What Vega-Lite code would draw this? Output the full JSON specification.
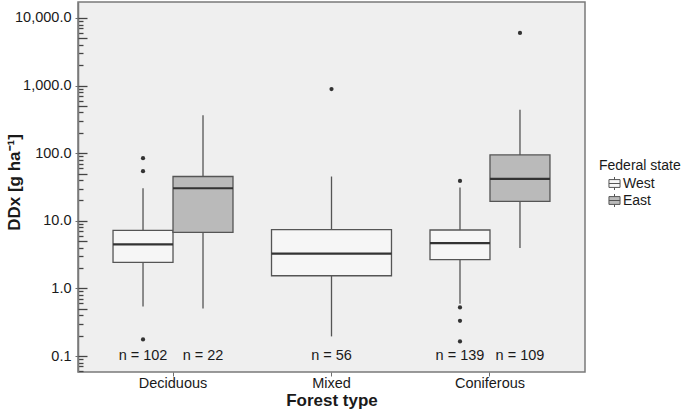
{
  "$schema": "https://vega.github.io/schema/vega-lite/v6.json",
  "width": 507,
  "height": 370,
  "autosize": "none",
  "padding": {"left": 78, "top": 2, "right": 100, "bottom": 41},
  "background": "white",
  "config": {
    "font": "Liberation Sans",
    "view": {"fill": "#efefef", "stroke": "#7a7a7a", "strokeWidth": 1.5},
    "axis": {"tickColor": "#6e6e6e", "labelColor": "#1a1a1a", "titleColor": "#1a1a1a", "labelFont": "Liberation Sans", "titleFont": "Liberation Sans"},
    "legend": {"labelFont": "Liberation Sans", "titleFont": "Liberation Sans"}
  },
  "datasets": {
    "boxes": [
      {"forest": "Deciduous", "state": "West", "lower": 0.54, "q1": 2.43, "median": 4.49, "q3": 7.23, "upper": 30.3, "label": "n = 102"},
      {"forest": "Deciduous", "state": "East", "lower": 0.505, "q1": 6.76, "median": 30.3, "q3": 45.2, "upper": 365, "label": "n = 22"},
      {"forest": "Mixed", "state": "West", "lower": 0.195, "q1": 1.54, "median": 3.27, "q3": 7.41, "upper": 45.2, "label": "n = 56"},
      {"forest": "Coniferous", "state": "West", "lower": 0.593, "q1": 2.66, "median": 4.69, "q3": 7.31, "upper": 31.0, "label": "n = 139"},
      {"forest": "Coniferous", "state": "East", "lower": 3.95, "q1": 19.4, "median": 41.6, "q3": 94.4, "upper": 438, "label": "n = 109"}
    ],
    "outliers": [
      {"forest": "Deciduous", "state": "West", "value": 84.3},
      {"forest": "Deciduous", "state": "West", "value": 54.1},
      {"forest": "Deciduous", "state": "West", "value": 0.176},
      {"forest": "Mixed", "state": "West", "value": 887},
      {"forest": "Coniferous", "state": "West", "value": 38.9},
      {"forest": "Coniferous", "state": "West", "value": 0.523},
      {"forest": "Coniferous", "state": "West", "value": 0.332},
      {"forest": "Coniferous", "state": "West", "value": 0.164},
      {"forest": "Coniferous", "state": "East", "value": 6000}
    ]
  },
  "layer": [
    {
      "encoding": {
        "x": {"field": "forest", "type": "nominal", "scale": {"domain": ["Deciduous", "Mixed", "Coniferous"], "paddingInner": 0.243, "paddingOuter": 0.221},
          "axis": {"title": "Forest type", "titleFontSize": 17, "titleFontWeight": "bold", "titlePadding": 3, "labelFontSize": 14.5, "labelAngle": 0, "tickSize": 4, "labelPadding": 0, "domain": false, "grid": false}}
      },
      "layer": [
        {"data": {"name": "boxes"}, "transform": [{"filter": "datum.forest !== 'Mixed'"}],
          "mark": {"type": "rule", "color": "#555555", "strokeWidth": 1.3},
          "encoding": {"xOffset": {"field": "state", "type": "nominal", "scale": {"domain": ["West", "East"], "paddingInner": 0, "paddingOuter": 0}},
            "y": {"field": "lower", "type": "quantitative", "scale": {"type": "log", "domain": [0.058, 17240], "nice": false},
              "axis": {"orient": "left", "values": [0.1, 1, 10, 100, 1000, 10000], "format": ",.1f", "tickSize": 3, "labelPadding": 4, "labelFontSize": 14.5, "domain": false, "grid": false, "labelOverlap": false,
                "title": "DDx [g ha⁻¹]", "titleFontSize": 17, "titleFontWeight": "bold", "titleX": -55, "titleY": 180}},
            "y2": {"field": "upper"}}},
        {"data": {"name": "boxes"}, "transform": [{"filter": "datum.forest === 'Mixed'"}],
          "mark": {"type": "rule", "color": "#555555", "strokeWidth": 1.3},
          "encoding": {"y": {"field": "lower", "type": "quantitative", "scale": {"type": "log", "domain": [0.058, 17240], "nice": false}}, "y2": {"field": "upper"}}},
        {"data": {"name": "boxes"}, "transform": [{"filter": "datum.forest !== 'Mixed'"}],
          "mark": {"type": "bar", "stroke": "#555555", "strokeWidth": 1.3},
          "encoding": {"xOffset": {"field": "state", "type": "nominal", "scale": {"domain": ["West", "East"], "paddingInner": 0, "paddingOuter": 0}},
            "y": {"field": "q1", "type": "quantitative", "scale": {"type": "log", "domain": [0.058, 17240], "nice": false}}, "y2": {"field": "q3"},
            "fill": {"field": "state", "type": "nominal", "scale": {"domain": ["West", "East"], "range": ["#f6f6f6", "#bababa"]},
              "legend": {"title": "Federal state", "orient": "none", "legendX": 521, "legendY": 157, "titleFontSize": 14, "titleFontWeight": "normal", "titlePadding": 3, "labelFontSize": 14, "labelColor": "#1a1a1a", "titleColor": "#1a1a1a",
                "symbolType": "M-0.85,-0.6H0.85V0.6H-0.85Z M-0.85,0H0.85 M0,-1V-0.6 M0,0.6V1", "symbolSize": 170, "symbolStrokeColor": "#555555", "symbolStrokeWidth": 1, "symbolOffset": 8, "labelOffset": 1, "rowPadding": -8}}}},
        {"data": {"name": "boxes"}, "transform": [{"filter": "datum.forest === 'Mixed'"}],
          "mark": {"type": "bar", "stroke": "#555555", "strokeWidth": 1.3},
          "encoding": {"y": {"field": "q1", "type": "quantitative", "scale": {"type": "log", "domain": [0.058, 17240], "nice": false}}, "y2": {"field": "q3"},
            "fill": {"field": "state", "type": "nominal"}}},
        {"data": {"name": "boxes"}, "transform": [{"filter": "datum.forest !== 'Mixed'"}],
          "mark": {"type": "bar", "fillOpacity": 0, "stroke": "#333333", "strokeWidth": 2.2},
          "encoding": {"xOffset": {"field": "state", "type": "nominal", "scale": {"domain": ["West", "East"], "paddingInner": 0, "paddingOuter": 0}},
            "y": {"field": "median", "type": "quantitative", "scale": {"type": "log", "domain": [0.058, 17240], "nice": false}}, "y2": {"field": "median"}}},
        {"data": {"name": "boxes"}, "transform": [{"filter": "datum.forest === 'Mixed'"}],
          "mark": {"type": "bar", "fillOpacity": 0, "stroke": "#333333", "strokeWidth": 2.2},
          "encoding": {"y": {"field": "median", "type": "quantitative", "scale": {"type": "log", "domain": [0.058, 17240], "nice": false}}, "y2": {"field": "median"}}},
        {"data": {"name": "outliers"}, "transform": [{"filter": "datum.forest !== 'Mixed'"}],
          "mark": {"type": "circle", "color": "#333333", "opacity": 1, "size": 18},
          "encoding": {"xOffset": {"field": "state", "type": "nominal", "scale": {"domain": ["West", "East"], "paddingInner": 0, "paddingOuter": 0}},
            "y": {"field": "value", "type": "quantitative", "scale": {"type": "log", "domain": [0.058, 17240], "nice": false}}}},
        {"data": {"name": "outliers"}, "transform": [{"filter": "datum.forest === 'Mixed'"}],
          "mark": {"type": "circle", "color": "#333333", "opacity": 1, "size": 18},
          "encoding": {"y": {"field": "value", "type": "quantitative", "scale": {"type": "log", "domain": [0.058, 17240], "nice": false}}}},
        {"data": {"name": "boxes"}, "transform": [{"filter": "datum.forest !== 'Mixed'"}],
          "mark": {"type": "text", "fontSize": 14.5, "color": "#1a1a1a", "baseline": "middle"},
          "encoding": {"xOffset": {"field": "state", "type": "nominal", "scale": {"domain": ["West", "East"], "paddingInner": 0, "paddingOuter": 0}},
            "y": {"datum": 0.1, "type": "quantitative", "scale": {"type": "log", "domain": [0.058, 17240], "nice": false}}, "text": {"field": "label"}}},
        {"data": {"name": "boxes"}, "transform": [{"filter": "datum.forest === 'Mixed'"}],
          "mark": {"type": "text", "fontSize": 14.5, "color": "#1a1a1a", "baseline": "middle"},
          "encoding": {"y": {"datum": 0.1, "type": "quantitative", "scale": {"type": "log", "domain": [0.058, 17240], "nice": false}}, "text": {"field": "label"}}}
      ]
    },
    {"data": {"name": "boxes"}, "mark": {"type": "point", "opacity": 0},
      "encoding": {"y": {"field": "median", "type": "quantitative", "scale": {"type": "log", "domain": [0.058, 17240], "nice": false},
        "axis": {"orient": "right", "offset": -507, "values": [0.06, 0.07, 0.08, 0.09, 0.2, 0.3, 0.4, 0.6, 0.7, 0.8, 0.9, 2, 3, 4, 6, 7, 8, 9, 20, 30, 40, 60, 70, 80, 90, 200, 300, 400, 600, 700, 800, 900, 2000, 3000, 4000, 6000, 7000, 8000, 9000],
          "tickSize": 5, "tickColor": "#444444", "tickWidth": 1.3, "labels": false, "domain": true, "domainColor": "#7a7a7a", "domainWidth": 1.5, "grid": false, "title": null}}}},
    {"data": {"name": "boxes"}, "mark": {"type": "point", "opacity": 0},
      "encoding": {"y": {"field": "median", "type": "quantitative", "scale": {"type": "log", "domain": [0.058, 17240], "nice": false},
        "axis": {"orient": "left", "offset": -9, "values": [0.5, 5, 50, 500, 5000, 0.1, 1, 10, 100, 1000, 10000],
          "tickSize": 9, "tickColor": "#444444", "tickWidth": 1.3, "labels": false, "domain": false, "grid": false, "title": null}}}}
  ],
  "resolve": {"axis": {"y": "independent"}}
}
